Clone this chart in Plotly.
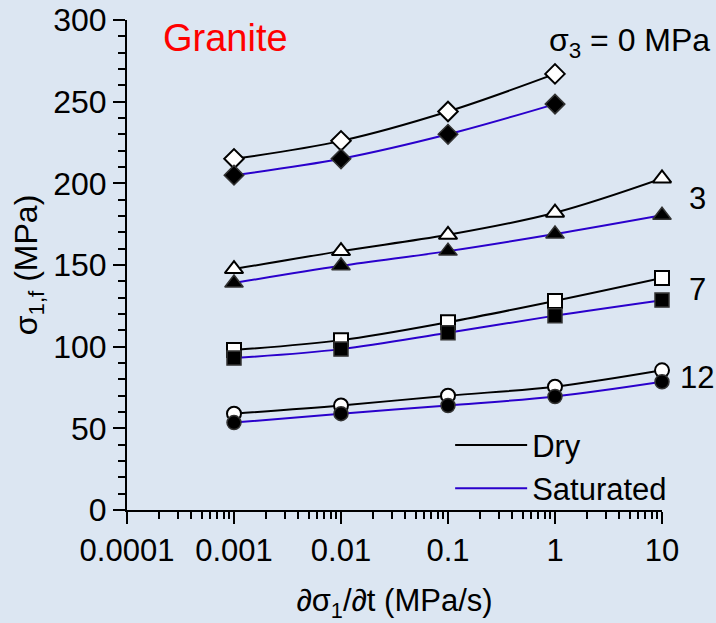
import plotly.graph_objects as go

rates = [0.001, 0.01, 0.1, 1, 10]

# sigma3 = 0 MPa (no 10 MPa/s point)
dry_0 = [215, 226, 244, 267]
sat_0 = [205, 215, 230, 248.5]
# sigma3 = 3 MPa
dry_3 = [147.5, 158.5, 168.5, 182, 203]
sat_3 = [139, 149.5, 158.5, 169, 180.5]
# sigma3 = 7 MPa
dry_7 = [98, 104, 115, 128, 142]
sat_7 = [93, 98.5, 108.5, 119, 128.5]
# sigma3 = 12 MPa
dry_12 = [59, 64, 70, 75.5, 85.5]
sat_12 = [53.5, 59, 64, 69.5, 78.5]

groups = [
    ("0", dry_0, sat_0, "diamond", 15),
    ("3", dry_3, sat_3, "triangle-up", 16),
    ("7", dry_7, sat_7, "square", 14),
    ("12", dry_12, sat_12, "circle", 14),
]

x_tickvals = [0.0001, 0.001, 0.01, 0.1, 1, 10]
x_ticktext = ["0.0001", "0.001", "0.01", "0.1", "1", "10"]

BG = "#dce6f2"
BLUE = "#2a00cc"
FONT = "Liberation Sans, Arial, sans-serif"

fig = go.Figure()

for name, dry, sat, sym, size in groups:
    xs = rates[:len(dry)]
    fig.add_trace(go.Scatter(
        x=xs, y=dry, mode="lines+markers", showlegend=False, cliponaxis=False,
        line=dict(color="black", width=2, shape="spline", smoothing=1),
        marker=dict(symbol=sym, size=size, color="white",
                    line=dict(color="black", width=2)),
    ))
    fig.add_trace(go.Scatter(
        x=xs, y=sat, mode="lines+markers", showlegend=False, cliponaxis=False,
        line=dict(color=BLUE, width=2, shape="spline", smoothing=1),
        marker=dict(symbol=sym, size=size, color="black",
                    line=dict(color="#333333", width=1.5)),
    ))

# legend entries
fig.add_trace(go.Scatter(x=[None], y=[None], mode="lines", name="Dry",
                         line=dict(color="black", width=2)))
fig.add_trace(go.Scatter(x=[None], y=[None], mode="lines", name="Saturated",
                         line=dict(color=BLUE, width=2)))

annotations = [
    dict(text="Granite", x=0.185, y=0.963, xref="paper", yref="paper",
         xanchor="center", yanchor="middle",
         showarrow=False, font=dict(size=38, color="red", family=FONT)),
    dict(text="σ<sub>3</sub> = 0 MPa", x=0.94, y=0.955, xref="paper", yref="paper",
         xanchor="center", yanchor="middle",
         showarrow=False, font=dict(size=32, color="black", family=FONT)),
    dict(text="3", x=1.066, y=191, xref="paper", yref="y",
         xanchor="center", yanchor="middle",
         showarrow=False, font=dict(size=31, color="black", family=FONT)),
    dict(text="7", x=1.066, y=135, xref="paper", yref="y",
         xanchor="center", yanchor="middle",
         showarrow=False, font=dict(size=31, color="black", family=FONT)),
    dict(text="12", x=1.066, y=81, xref="paper", yref="y",
         xanchor="center", yanchor="middle",
         showarrow=False, font=dict(size=31, color="black", family=FONT)),
]

fig.update_layout(
    width=716, height=623,
    margin=dict(l=127, r=54, t=20, b=113, autoexpand=False),
    paper_bgcolor=BG, plot_bgcolor=BG,
    font=dict(family=FONT, size=30, color="black"),
    annotations=annotations,
    legend=dict(x=0.604, y=0.088, xanchor="left", yanchor="middle",
                bgcolor="rgba(0,0,0,0)", font=dict(size=31),
                tracegroupgap=0, itemwidth=72),
    xaxis=dict(
        type="log", range=[-4, 1], automargin=False,
        tickvals=x_tickvals, ticktext=x_ticktext,
        showgrid=False, zeroline=False,
        showline=True, linecolor="black", linewidth=2,
        ticks="outside", ticklen=12, tickwidth=2, tickcolor="black",
        tickfont=dict(size=31), ticklabelstandoff=0,
        minor=dict(ticks="outside", ticklen=7, tickwidth=2, tickcolor="black",
                   dtick="D1", showgrid=False),
        title=dict(text="∂σ<sub>1</sub>/∂t (MPa/s)", font=dict(size=31), standoff=24),
    ),
    yaxis=dict(
        range=[0, 300], dtick=50, automargin=False,
        showgrid=False, zeroline=False,
        showline=True, linecolor="black", linewidth=2,
        ticks="outside", ticklen=12, tickwidth=2, tickcolor="black",
        tickfont=dict(size=32),
        minor=dict(ticks="outside", ticklen=7, tickwidth=2, tickcolor="black",
                   dtick=10, showgrid=False),
        title=dict(text="σ<sub>1,f</sub> (MPa)", font=dict(size=32), standoff=6),
    ),
)

fig.write_html("out.html")
